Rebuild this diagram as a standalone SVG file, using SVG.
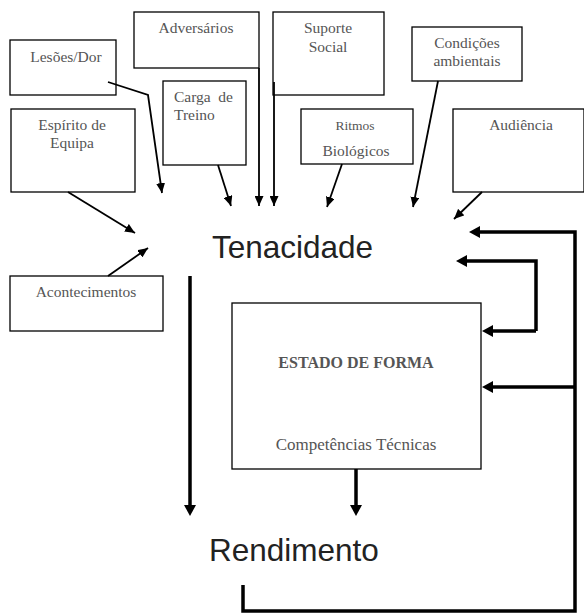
<svg xmlns="http://www.w3.org/2000/svg" width="584" height="613" viewBox="0 0 584 613">
<defs>
<style>
.box{fill:#fff;stroke:#000;stroke-width:1.3}
.lbl{font-family:"Liberation Serif","Times New Roman",serif;font-size:15.5px;fill:#555;text-anchor:middle}
.big{font-family:"Liberation Sans",Arial,sans-serif;font-size:31.5px;fill:#222}
.thin{fill:none;stroke:#000;stroke-width:1.8;marker-end:url(#ah)}
.thicka{fill:none;stroke:#000;stroke-width:3.5;marker-end:url(#ahb)}
</style>
<marker id="ah" markerUnits="userSpaceOnUse" markerWidth="10" markerHeight="9" refX="10" refY="4.5" orient="auto"><path d="M0,0 L10,4.5 L0,9 z" fill="#000"/></marker>
<marker id="ahb" markerUnits="userSpaceOnUse" markerWidth="11" markerHeight="12" refX="1" refY="6" orient="auto"><path d="M0,0 L11,6 L0,12 z" fill="#000"/></marker>
</defs>
<rect width="584" height="613" fill="#fff"/>
<g id="lesoes"><rect class="box" x="10" y="40" width="106" height="55"/><text class="lbl" x="66" y="62">Lesões/Dor</text></g>
<g id="adversarios"><rect class="box" x="134" y="12" width="125" height="56"/><text class="lbl" x="196" y="33">Adversários</text></g>
<g id="suporte"><rect class="box" x="273" y="12" width="111" height="83"/><text class="lbl" x="328" y="33">Suporte</text><text class="lbl" x="328" y="52">Social</text></g>
<g id="condicoes"><rect class="box" x="412" y="27" width="110" height="54"/><text class="lbl" x="467" y="48">Condições</text><text class="lbl" x="467" y="66">ambientais</text></g>
<g id="carga"><rect class="box" x="163" y="81" width="83" height="84"/><text class="lbl" x="174" y="102" style="text-anchor:start">Carga</text><text class="lbl" x="233" y="102" style="text-anchor:end">de</text><text class="lbl" x="174" y="120" style="text-anchor:start">Treino</text></g>
<g id="espirito"><rect class="box" x="11" y="109" width="124" height="83"/><text class="lbl" x="72" y="130">Espírito de</text><text class="lbl" x="72" y="148">Equipa</text></g>
<g id="ritmos"><rect class="box" x="301" y="109" width="112" height="55"/><text class="lbl" x="355" y="130" style="font-size:13.5px">Ritmos</text><text class="lbl" x="356" y="156">Biológicos</text></g>
<g id="audiencia"><rect class="box" x="453" y="109" width="131" height="83"/><text class="lbl" x="521" y="130">Audiência</text></g>
<g id="acontecimentos"><rect class="box" x="10" y="276" width="153" height="55"/><text class="lbl" x="86" y="297">Acontecimentos</text></g>
<g id="tenacidade"><text class="big" x="212" y="258">Tenacidade</text></g>
<g id="estado"><rect class="box" x="232" y="303" width="249" height="166"/><text class="lbl" x="356" y="368" style="font-weight:bold;font-size:16px">ESTADO DE FORMA</text><text class="lbl" x="356" y="450" style="font-size:17px">Competências Técnicas</text></g>
<g id="rendimento"><text class="big" x="209" y="561">Rendimento</text></g>
<g id="connectors">
<path class="thin" d="M108,82 L148,95 L162,193"/>
<path class="thin" d="M68,192 L135,233"/>
<path class="thin" d="M108,276 L148,248"/>
<path class="thin" d="M218,165 L231,206"/>
<path class="thin" d="M259,68 L259,206"/>
<path class="thin" d="M274,82 L274,206"/>
<path class="thin" d="M342,164 L327,207"/>
<path class="thin" d="M438,81 L413,207"/>
<path class="thin" d="M482,192 L454,219"/>
<path class="thicka" d="M190,276 L190,506"/>
<path class="thicka" d="M356,469 L356,506"/>
<path class="thicka" d="M243,585 L243,611 L575,611 L575,232 L479,232"/>
<path class="thicka" d="M575,387 L492,387"/>
<path class="thicka" d="M536,331 L492,331"/>
<path class="thicka" d="M536,331 L536,261 L466,261"/>
</g>
</svg>
